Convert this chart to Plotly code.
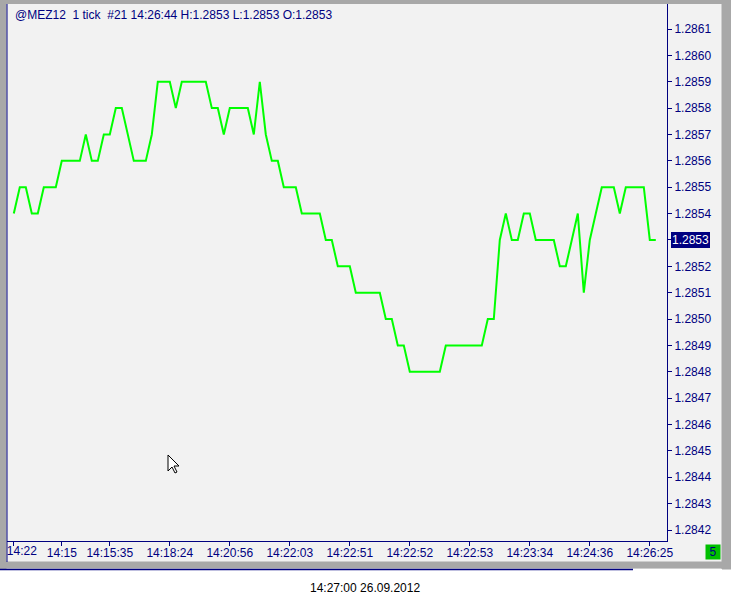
import plotly.graph_objects as go

# ---- data ----
prices = [
    1.2854, 1.2855, 1.2855, 1.2854, 1.2854, 1.2855, 1.2855, 1.2855, 1.2856, 1.2856,
    1.2856, 1.2856, 1.2857, 1.2856, 1.2856, 1.2857, 1.2857, 1.2858, 1.2858, 1.2857,
    1.2856, 1.2856, 1.2856, 1.2857, 1.2859, 1.2859, 1.2859, 1.2858, 1.2859, 1.2859,
    1.2859, 1.2859, 1.2859, 1.2858, 1.2858, 1.2857, 1.2858, 1.2858, 1.2858, 1.2858,
    1.2857, 1.2859, 1.2857, 1.2856, 1.2856, 1.2855, 1.2855, 1.2855, 1.2854, 1.2854,
    1.2854, 1.2854, 1.2853, 1.2853, 1.2852, 1.2852, 1.2852, 1.2851, 1.2851, 1.2851,
    1.2851, 1.2851, 1.2850, 1.2850, 1.2849, 1.2849, 1.2848, 1.2848, 1.2848, 1.2848,
    1.2848, 1.2848, 1.2849, 1.2849, 1.2849, 1.2849, 1.2849, 1.2849, 1.2849, 1.2850,
    1.2850, 1.2853, 1.2854, 1.2853, 1.2853, 1.2854, 1.2854, 1.2853, 1.2853, 1.2853,
    1.2853, 1.2852, 1.2852, 1.2853, 1.2854, 1.2851, 1.2853, 1.2854, 1.2855, 1.2855,
    1.2855, 1.2854, 1.2855, 1.2855, 1.2855, 1.2855, 1.2853, 1.2853,
]
tick_index = list(range(len(prices)))
time_label_idx = [0, 8, 16, 26, 36, 46, 56, 66, 76, 86, 96, 106]
time_labels = ["14:22", "14:15", "14:15:35", "14:18:24", "14:20:56", "14:22:03",
               "14:22:51", "14:22:52", "14:22:53", "14:23:34", "14:24:36", "14:26:25"]
price_ticks = [1.2842, 1.2843, 1.2844, 1.2845, 1.2846, 1.2847, 1.2848, 1.2849, 1.2850, 1.2851,
               1.2852, 1.2853, 1.2854, 1.2855, 1.2856, 1.2857, 1.2858, 1.2859, 1.2860, 1.2861]
title_text = "@MEZ12\u00a0\u00a01 tick\u00a0\u00a0#21 14:26:44 H:1.2853 L:1.2853 O:1.2853"
footer_text = "14:27:00 26.09.2012"
bars_count_text = "5"

# ---- geometry helpers (pixel -> paper) ----
W, H = 731, 605
PL, PR, PT, PB = 7, 667, 4, 541


def px(x):
    return (x - PL) / (PR - PL)


def py(y):
    return (PB - y) / (PB - PT)


NAVY = "#000080"
FONT = "Liberation Sans, Arial, sans-serif"

fig = go.Figure()
fig.add_trace(go.Scatter(
    x=tick_index, y=prices, mode="lines",
    line=dict(color="#00ff00", width=2), hoverinfo="skip", showlegend=False,
))
# helper trace so the secondary (label-only) x axis gets drawn
fig.add_trace(go.Scatter(x=[], y=[], xaxis="x2", yaxis="y", mode="lines",
                         hoverinfo="skip", showlegend=False))

ticktext = list(time_labels)
ticktext[0] = ""

x_range = [-(13.8 - PL) / 6.0, -(13.8 - PL) / 6.0 + (PR - PL) / 6.0]
tickfont = dict(family=FONT, size=12, color=NAVY)
fig.update_layout(
    xaxis=dict(
        range=x_range,
        tickmode="array", tickvals=time_label_idx, ticktext=ticktext,
        ticks="outside", ticklen=4, tickcolor=NAVY, tickwidth=1,
        showline=True, linecolor=NAVY, linewidth=1,
        showgrid=False, zeroline=False,
        ticklabelstandoff=-3, automargin=False,
        tickfont=tickfont, fixedrange=True,
    ),
    # first time label sits right of its tick (clipped panel edge in the original)
    xaxis2=dict(
        overlaying="x", anchor="y", side="bottom", range=x_range,
        tickmode="array", tickvals=time_label_idx[:1], ticktext=time_labels[:1],
        ticks="", showline=False, showgrid=False, zeroline=False,
        ticklabelshift=8, ticklabelstandoff=1, automargin=False,
        tickfont=tickfont, fixedrange=True,
    ),
)

last_price = prices[-1]
price_text = ["" if abs(v - last_price) < 1e-9 else f"{v:.4f}" for v in price_ticks]

step_px = 26.37
top_val = 1.2861 + (29 - PT) / step_px * 0.0001
bot_val = 1.2861 - (PB - 29) / step_px * 0.0001
fig.update_yaxes(
    side="right", range=[bot_val, top_val],
    tickmode="array", tickvals=price_ticks, ticktext=price_text,
    ticks="outside", ticklen=4, tickcolor=NAVY, tickwidth=1,
    showline=True, linecolor=NAVY, linewidth=1,
    showgrid=False, zeroline=False, automargin=False,
    tickfont=tickfont, fixedrange=True,
)

shapes = []
GRAY = "#a8a8a8"
# panel background
shapes.append(dict(type="rect", xref="paper", yref="paper", layer="below",
                   x0=px(0), x1=px(W), y0=py(569), y1=py(0),
                   fillcolor="#f2f2f2", line=dict(width=0)))
# frames
for (a, b, c, d) in [(0, 6, 0, 569), (0, W, 0, 3.5), (722, W, 0, 569), (0, W, 562, 568)]:
    shapes.append(dict(type="rect", xref="paper", yref="paper", layer="above",
                       x0=px(a), x1=px(b), y0=py(d), y1=py(c),
                       fillcolor=GRAY, line=dict(color=GRAY, width=1)))
shapes.append(dict(type="line", xref="paper", yref="paper", layer="above",
                   x0=px(0), x1=px(633), y0=py(569.5), y1=py(569.5),
                   line=dict(color=NAVY, width=1.5)))
shapes.append(dict(type="line", xref="paper", yref="paper", layer="above",
                   x0=px(7), x1=px(7), y0=py(4), y1=py(562),
                   line=dict(color=NAVY, width=1)))
# mouse cursor
cur = [(0, 0), (0, 16), (4, 12), (7, 18), (9, 17), (6, 11), (11, 11)]
cx, cy = 168, 455
path = "M " + " L ".join(f"{px(cx + a):.5f},{py(cy + b):.5f}" for a, b in cur) + " Z"
shapes.append(dict(type="path", xref="paper", yref="paper", layer="above", path=path,
                   fillcolor="white", line=dict(color="black", width=1)))

annotations = [
    dict(xref="paper", yref="paper", x=px(13), y=py(15), xanchor="left", yanchor="middle",
         text=title_text, showarrow=False, font=dict(family=FONT, size=12, color=NAVY)),
    dict(xref="paper", yref="y", x=1, xshift=4, y=last_price, xanchor="left", yanchor="middle",
         text=f"{last_price:.4f}", showarrow=False, bgcolor=NAVY, bordercolor=NAVY,
         borderwidth=1, borderpad=0, font=dict(family=FONT, size=12, color="white")),
    dict(xref="paper", yref="paper", x=px(713), y=py(552), xanchor="center", yanchor="middle",
         text=bars_count_text, showarrow=False, bgcolor="#00c000", width=12, height=12,
         borderpad=1, font=dict(family=FONT, size=12, color=NAVY)),
    dict(xref="paper", yref="paper", x=px(365), y=py(588), xanchor="center", yanchor="middle",
         text=footer_text, showarrow=False, font=dict(family=FONT, size=12, color="black")),
]

fig.update_layout(
    width=W, height=H, autosize=False,
    margin=dict(l=PL, r=W - PR, t=PT, b=H - PB, pad=0),
    paper_bgcolor="white", plot_bgcolor="#f2f2f2",
    shapes=shapes, annotations=annotations,
    showlegend=False,
)

fig.write_html("out.html", config={"displayModeBar": False},
               post_script="document.body.style.margin='0';document.body.style.overflow='hidden';")
